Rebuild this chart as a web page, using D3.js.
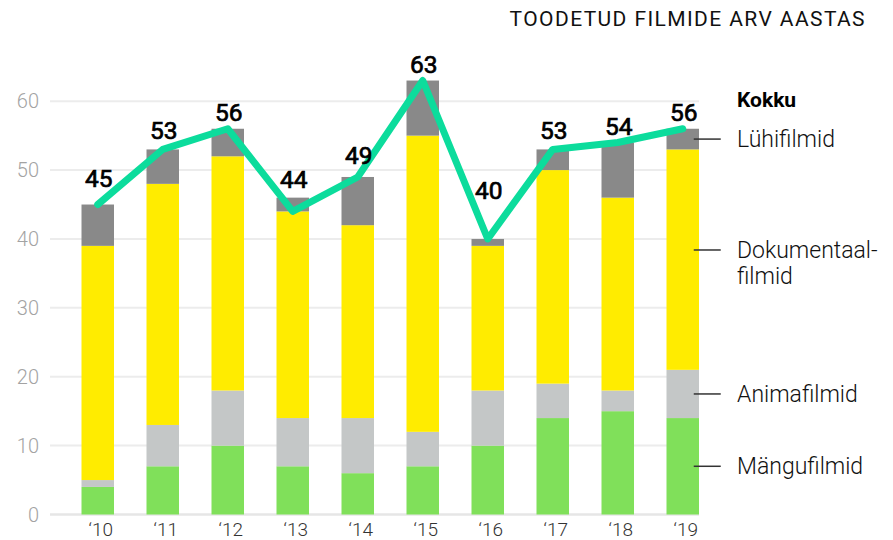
<!DOCTYPE html>
<html>
<head>
<meta charset="utf-8">
<script src="https://cdn.jsdelivr.net/npm/d3@7/dist/d3.min.js"></script>
<style>
  html, body { margin: 0; padding: 0; background: #fff; }
  svg { display: block; font-family: Roboto, "Noto Sans", sans-serif; }
</style>
</head>
<body>
<svg id="chart" width="893" height="540"></svg>
<script>
// ---- data ----
const years = ["\u201810", "\u201811", "\u201812", "\u201813", "\u201814", "\u201815", "\u201816", "\u201817", "\u201818", "\u201819"];
const mangufilmid = [4, 7, 10, 7, 6, 7, 10, 14, 15, 14];
const animafilmid = [1, 6, 8, 7, 8, 5, 8, 5, 3, 7];
const dokumentaalfilmid = [34, 35, 34, 30, 28, 43, 21, 31, 28, 32];
const luhifilmid = [6, 5, 4, 2, 7, 8, 1, 3, 8, 3];
const kokku = [45, 53, 56, 44, 49, 63, 40, 53, 54, 56];
const yTicks = [0, 10, 20, 30, 40, 50, 60];
const seriesNames = ["Mängufilmid", "Animafilmid", "Dokumentaalfilmid", "Lühifilmid"];
const legendLabels = [["Mängufilmid"], ["Animafilmid"], ["Dokumentaal-", "filmid"], ["Lühifilmid"]];
const legendAnchor = [7, 17.5, 38.4, 54.5];
const title = "TOODETUD FILMIDE ARV AASTAS";
const totalLabel = "Kokku";
// extra lift (px) for total labels where the line would overlap
const labelLift = [8, 0, -2, 0, 3, -2, 30, 0, -2, -2];

// ---- styles ----
const colors = {
  "Mängufilmid": "#80e05a",
  "Animafilmid": "#c4c7c7",
  "Dokumentaalfilmid": "#ffec00",
  "Lühifilmid": "#898989"
};
const lineColor = "#0cdc9c";

const svg = d3.select("#chart");

const x = d3.scaleBand().domain(years).range([65.25, 715.25]).paddingInner(0.5).paddingOuter(0.25);
const y = d3.scaleLinear().domain([0, 60]).range([514.5, 101.2]);

const rows = years.map((yr, i) => ({
  year: yr,
  "Mängufilmid": mangufilmid[i],
  "Animafilmid": animafilmid[i],
  "Dokumentaalfilmid": dokumentaalfilmid[i],
  "Lühifilmid": luhifilmid[i],
  total: kokku[i]
}));

// gridlines
const gridX0 = 50, gridX1 = x(years[years.length - 1]) + x.bandwidth();
svg.append("g").selectAll("line").data(yTicks).join("line")
  .attr("x1", gridX0).attr("x2", gridX1)
  .attr("y1", d => y(d)).attr("y2", d => y(d))
  .attr("stroke", d => d === 0 ? "#e6e6e6" : "#ececec")
  .attr("stroke-width", d => d === 0 ? 2.5 : 2);

// y tick labels
svg.append("g").selectAll("text").data(yTicks).join("text")
  .attr("x", 39).attr("y", d => y(d) + 7)
  .attr("text-anchor", "end")
  .attr("font-size", 20).attr("font-weight", 300)
  .attr("fill", "#a3a3a3")
  .text(d => d);

// x labels
svg.append("g").selectAll("text").data(years).join("text")
  .attr("x", d => x(d) + x.bandwidth() / 2 + 3)
  .attr("y", 536)
  .attr("text-anchor", "middle")
  .attr("font-size", 19).attr("font-weight", 300)
  .attr("fill", "#333")
  .text(d => d);

// stacked bars
const stack = d3.stack().keys(seriesNames);
const stacked = stack(rows);
svg.append("g").selectAll("g").data(stacked).join("g")
  .attr("fill", d => colors[d.key])
  .selectAll("rect").data(d => d).join("rect")
  .attr("x", d => x(d.data.year))
  .attr("width", x.bandwidth())
  .attr("y", d => y(d[1]))
  .attr("height", d => y(d[0]) - y(d[1]));

// total line
const line = d3.line()
  .x((d, i) => x(years[i]) + x.bandwidth() / 2)
  .y(d => y(d));
svg.append("path").datum(kokku)
  .attr("d", line)
  .attr("fill", "none")
  .attr("stroke", lineColor)
  .attr("stroke-width", 7)
  .attr("stroke-linejoin", "round")
  .attr("stroke-linecap", "round");

// total labels
const barTops = rows.map(r => seriesNames.reduce((s, k) => s + r[k], 0));
svg.append("g").selectAll("text").data(kokku).join("text")
  .attr("x", (d, i) => x(years[i]) + x.bandwidth() / 2 + 1)
  .attr("y", (d, i) => y(Math.max(d, barTops[i])) - 10 - labelLift[i])
  .attr("text-anchor", "middle")
  .attr("font-size", 24.5).attr("font-weight", 400)
  .attr("fill", "#000")
  .attr("stroke", "#000").attr("stroke-width", 0.7)
  .text(d => d);

// legend
const legX = 737;
const lastX = x(years[years.length - 1]) + x.bandwidth() / 2 + 11;
const leg = svg.append("g").selectAll("g").data(seriesNames).join("g");
leg.append("line")
  .attr("x1", lastX).attr("x2", lastX + 27)
  .attr("y1", (d, i) => y(legendAnchor[i])).attr("y2", (d, i) => y(legendAnchor[i]))
  .attr("stroke", "#333").attr("stroke-width", 1.5);
leg.append("text")
  .attr("x", legX)
  .attr("y", (d, i) => y(legendAnchor[i]) + 8)
  .attr("font-size", 23).attr("font-weight", 300)
  .attr("fill", "#111")
  .selectAll("tspan").data((d, i) => legendLabels[i]).join("tspan")
  .attr("x", legX)
  .attr("dy", (d, j) => j === 0 ? 0 : 26)
  .text(d => d);

svg.append("text")
  .attr("x", legX).attr("y", 107)
  .attr("font-size", 21).attr("font-weight", 700)
  .attr("fill", "#000")
  .text(totalLabel);

// title
svg.append("text")
  .attr("x", 866).attr("y", 26)
  .attr("text-anchor", "end")
  .attr("font-size", 21).attr("font-weight", 400)
  .attr("letter-spacing", 1.4)
  .attr("fill", "#111")
  .text(title);
</script>
</body>
</html>
